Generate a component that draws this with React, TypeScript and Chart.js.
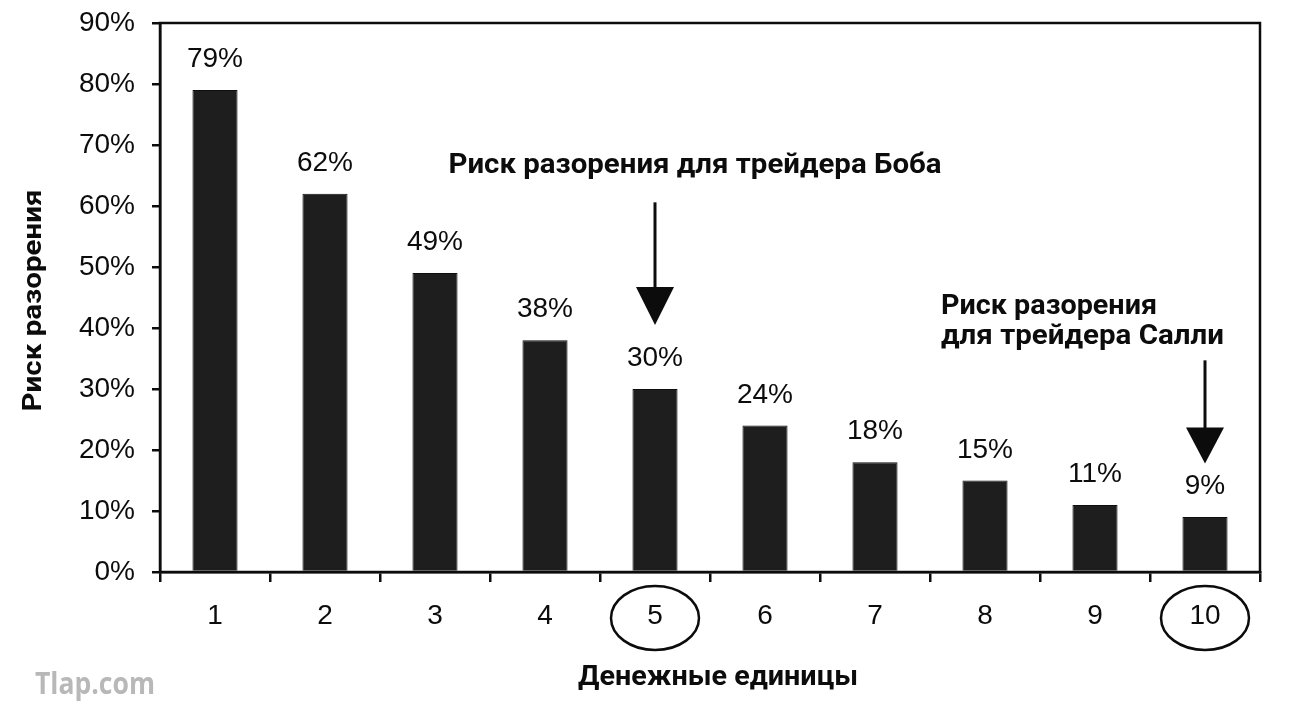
import React, { useEffect, useRef } from 'react';
import { Chart, registerables } from 'chart.js';

Chart.register(...registerables);

// ---- data ----
const categories = ['1', '2', '3', '4', '5', '6', '7', '8', '9', '10'];
const riskValues = [79, 62, 49, 38, 30, 24, 18, 15, 11, 9];
const yTickStep = 10;
const yMax = 90;
const circledCategories = ['5', '10'];
const yAxisTitle = 'Риск разорения';
const xAxisTitle = 'Денежные единицы';
const bobLines = ['Риск разорения для трейдера Боба'];
const sallyLines = ['Риск разорения', 'для трейдера Салли'];
const watermarkText = 'Tlap.com';

const INK = '#0c0c0c';
const TICK_FONT_FAMILY = '"Liberation Sans", Arial, Helvetica, sans-serif';
const BOLD_FAMILY = 'Roboto, "Liberation Sans", sans-serif';
const TICK_SIZE = 28;

function drawFitted(
  ctx: CanvasRenderingContext2D,
  text: string,
  x: number,
  y: number,
  size: number,
  width: number,
  align: CanvasTextAlign,
  rotate = false,
  family = BOLD_FAMILY,
  color = INK
) {
  ctx.save();
  ctx.font = `bold ${size}px ${family}`;
  const w = ctx.measureText(text).width;
  const sx = width / w;
  ctx.translate(x, y);
  if (rotate) ctx.rotate(-Math.PI / 2);
  ctx.scale(sx, 1);
  ctx.textAlign = align;
  ctx.textBaseline = 'alphabetic';
  ctx.fillStyle = color;
  ctx.fillText(text, 0, 0);
  ctx.restore();
}

function drawArrow(ctx: CanvasRenderingContext2D, x: number, yTop: number, yTip: number, headLen: number, headHalf: number) {
  ctx.save();
  ctx.strokeStyle = INK;
  ctx.fillStyle = INK;
  ctx.lineWidth = 3;
  ctx.beginPath();
  ctx.moveTo(x, yTop);
  ctx.lineTo(x, yTip - headLen + 2);
  ctx.stroke();
  ctx.beginPath();
  ctx.moveTo(x - headHalf, yTip - headLen);
  ctx.lineTo(x + headHalf, yTip - headLen);
  ctx.lineTo(x, yTip);
  ctx.closePath();
  ctx.fill();
  ctx.restore();
}

const decorPlugin = {
  id: 'decor',
  afterDraw(chart: any) {
    const ctx: CanvasRenderingContext2D = chart.ctx;
    const area = chart.chartArea;
    const xs = chart.scales.x;
    const ys = chart.scales.y;

    // frame
    ctx.save();
    ctx.strokeStyle = INK;
    ctx.lineWidth = 2.5;
    ctx.strokeRect(area.left, area.top, area.right - area.left, area.bottom - area.top);
    ctx.restore();

    // value labels
    const meta = chart.getDatasetMeta(0);
    ctx.save();
    ctx.font = `${TICK_SIZE}px ${TICK_FONT_FAMILY}`;
    ctx.fillStyle = INK;
    ctx.textAlign = 'center';
    ctx.textBaseline = 'alphabetic';
    meta.data.forEach((bar: any, i: number) => {
      ctx.fillText(`${riskValues[i]}%`, bar.x, bar.y - 23);
    });
    ctx.restore();

    // circles around selected categories
    ctx.save();
    ctx.strokeStyle = INK;
    ctx.lineWidth = 2.5;
    circledCategories.forEach((c) => {
      const idx = categories.indexOf(c);
      const cx = xs.getPixelForValue(idx);
      ctx.beginPath();
      ctx.ellipse(cx, area.bottom + 46, 44, 32, 0, 0, Math.PI * 2);
      ctx.stroke();
    });
    ctx.restore();

    // Bob annotation
    const bobX = xs.getPixelForValue(categories.indexOf('5'));
    drawFitted(ctx, bobLines[0], bobX + 40, ys.getPixelForValue(65.4), 27, 493, 'center');
    drawArrow(ctx, bobX, ys.getPixelForValue(60.6), ys.getPixelForValue(40.5), 38, 19);

    // Sally annotation
    const sallyX = xs.getPixelForValue(categories.indexOf('10'));
    const sallyLeft = sallyX - 264;
    drawFitted(ctx, sallyLines[0], sallyLeft, ys.getPixelForValue(42.3), 27, 216, 'left');
    drawFitted(ctx, sallyLines[1], sallyLeft, ys.getPixelForValue(37.3), 27, 283, 'left');
    drawArrow(ctx, sallyX, ys.getPixelForValue(34.7), ys.getPixelForValue(17.8), 36, 19);

    // axis titles
    drawFitted(ctx, yAxisTitle, 41, (area.top + area.bottom) / 2 + 3, 25, 222, 'center', true);
    drawFitted(ctx, xAxisTitle, (area.left + area.right) / 2 + 8, area.bottom + 113, 27, 280, 'center');

    // watermark
    drawFitted(ctx, watermarkText, 35, chart.height - 31, 30, 120, 'left', false, '"Open Sans", sans-serif', '#b8b8b8');
  },
};

export default function App() {
  const canvasRef = useRef<HTMLCanvasElement | null>(null);

  useEffect(() => {
    if (!canvasRef.current) return;
    const chart = new Chart(canvasRef.current, {
      type: 'bar',
      data: {
        labels: categories,
        datasets: [
          {
            data: riskValues,
            backgroundColor: '#1e1e1e',
            borderColor: '#0e0e0e',
            borderWidth: 1,
            barPercentage: 0.41,
            categoryPercentage: 1.0,
          },
        ],
      },
      options: {
        responsive: false,
        animation: false,
        devicePixelRatio: 1,
        layout: { padding: { top: 23, right: 30, left: 0, bottom: 0 } },
        plugins: {
          legend: { display: false },
          tooltip: { enabled: false },
        },
        scales: {
          x: {
            offset: true,
            grid: {
              display: true,
              offset: true,
              drawOnChartArea: false,
              drawTicks: true,
              tickLength: 10,
              color: INK,
              lineWidth: 2.5,
            },
            border: { display: true, color: INK, width: 2.5 },
            ticks: {
              color: INK,
              font: { family: TICK_FONT_FAMILY, size: TICK_SIZE },
              padding: 17,
              maxRotation: 0,
              autoSkip: false,
            },
            afterFit: (s: any) => {
              s.height = 153;
              s.paddingLeft = 0;
              s.paddingRight = 0;
            },
          },
          y: {
            min: 0,
            max: yMax,
            ticks: {
              stepSize: yTickStep,
              callback: (v: any) => `${v}%`,
              color: INK,
              font: { family: TICK_FONT_FAMILY, size: TICK_SIZE },
              padding: 17,
            },
            grid: {
              display: true,
              drawOnChartArea: false,
              drawTicks: true,
              tickLength: 8,
              color: INK,
              lineWidth: 2.5,
            },
            border: { display: true, color: INK, width: 2.5 },
            afterFit: (s: any) => {
              s.width = 160;
              s.paddingTop = 0;
              s.paddingBottom = 0;
            },
          },
        },
      },
      plugins: [decorPlugin],
    });
    return () => chart.destroy();
  }, []);

  return (
    <div style={{ position: 'absolute', left: 0, top: 0, width: 1290, height: 725, background: '#fff' }}>
      <canvas ref={canvasRef} width={1290} height={725} style={{ width: 1290, height: 725, display: 'block' }} />
    </div>
  );
}
